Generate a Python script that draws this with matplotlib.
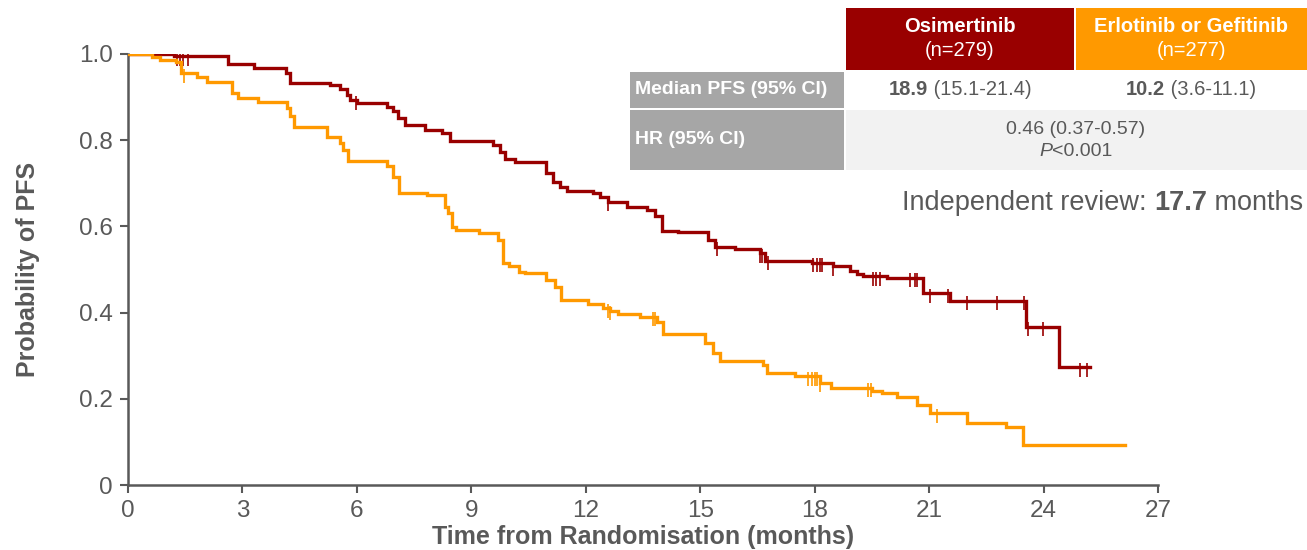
import numpy as np
import matplotlib
matplotlib.use("Agg")
import matplotlib.pyplot as plt
from matplotlib.patches import Rectangle
from matplotlib.offsetbox import TextArea, HPacker, AnnotationBbox

plt.rcParams["font.family"] = ["Liberation Sans", "DejaVu Sans"]

W, H = 1307, 550
GREY = "#595959"
RED = "#990000"
ORANGE = "#FF9900"

# Kaplan-Meier step curves (months, probability of PFS)
osi_t = [0, 1.2, 2.62, 3.3, 4.13, 4.25, 5.29, 5.56, 5.73, 5.82,
         5.99, 6.78, 6.95, 7.09, 7.26, 7.79, 8.22, 8.44, 9.58, 9.75,
         9.88, 10.14, 10.97, 11.15, 11.32, 11.5, 12.2, 12.37, 12.59, 13.07,
         13.6, 13.81, 13.99, 14.43, 15.21, 15.39, 15.91, 16.57, 16.7, 17.92,
         18.49, 18.93, 19.1, 19.27, 19.89, 20.85, 21.56, 23.53, 24.4, 25.22]
osi_s = [1.0, 0.995, 0.977, 0.967, 0.955, 0.933, 0.928, 0.918, 0.905, 0.893,
         0.886, 0.878, 0.867, 0.851, 0.835, 0.824, 0.816, 0.799, 0.789, 0.773,
         0.756, 0.750, 0.723, 0.704, 0.692, 0.683, 0.677, 0.669, 0.657, 0.644,
         0.638, 0.623, 0.590, 0.586, 0.568, 0.553, 0.547, 0.538, 0.520, 0.516,
         0.507, 0.497, 0.490, 0.485, 0.481, 0.445, 0.428, 0.367, 0.273, 0.273]
osi_cens = [1.29, 1.36, 1.45, 1.56, 5.98, 12.59, 15.43, 16.57, 16.62, 16.78,
            17.96, 18.05, 18.14, 18.18, 18.49, 19.54, 19.62, 19.71, 20.5, 20.63,
            20.67, 21.02, 21.5, 22.0, 22.77, 23.49, 23.6, 23.99, 24.95, 25.15]

erl_t = [0, 0.62, 0.84, 1.27, 1.4, 1.8, 2.06, 2.72, 2.89, 3.42,
         4.16, 4.25, 4.35, 5.21, 5.57, 5.63, 5.78, 6.78, 6.95, 7.11,
         7.85, 8.3, 8.4, 8.5, 8.6, 9.2, 9.7, 9.82, 9.99, 10.25,
         10.4, 10.97, 11.2, 11.35, 12.07, 12.46, 12.63, 12.85, 13.42, 13.86,
         14.03, 15.12, 15.34, 15.52, 16.65, 16.74, 17.48, 18.14, 18.44, 19.49,
         19.76, 20.15, 20.67, 21.02, 22.0, 23.01, 23.45, 26.13]
erl_s = [1.0, 0.992, 0.986, 0.982, 0.955, 0.947, 0.936, 0.909, 0.897, 0.889,
         0.874, 0.855, 0.830, 0.808, 0.793, 0.777, 0.752, 0.739, 0.715, 0.678,
         0.673, 0.646, 0.630, 0.599, 0.592, 0.584, 0.568, 0.514, 0.507, 0.495,
         0.491, 0.476, 0.460, 0.429, 0.421, 0.410, 0.404, 0.397, 0.390, 0.379,
         0.350, 0.329, 0.306, 0.288, 0.278, 0.259, 0.253, 0.237, 0.226, 0.217,
         0.213, 0.205, 0.186, 0.166, 0.145, 0.134, 0.093, 0.093]
erl_cens = [1.47, 12.58, 12.63, 13.77, 13.81, 17.83, 17.92, 18.0, 18.07, 18.14,
            19.4, 19.47, 21.2]

x_ticks = list(range(0, 28, 3))
y_ticks = [0, 0.2, 0.4, 0.6, 0.8, 1.0]
y_ticklabels = ["0", "0.2", "0.4", "0.6", "0.8", "1.0"]


def fx(x):
    return x / W


def fy(y):
    return 1 - y / H


fig = plt.figure(figsize=(W / 100, H / 100), dpi=100, facecolor="white")
ax = fig.add_axes([fx(128), fy(485), (1158 - 128) / W, (485 - 54) / H])

for t, s, cens, color in [(osi_t, osi_s, osi_cens, RED),
                          (erl_t, erl_s, erl_cens, ORANGE)]:
    t = np.asarray(t)
    s = np.asarray(s)
    ax.step(t, s, where="post", color=color, lw=2.4, zorder=3,
            solid_joinstyle="miter")
    idx = np.searchsorted(t, cens, side="right") - 1
    # censoring marks hang just below the curve
    ax.plot(cens, s[idx] - 0.006, ls="none", marker="|", ms=10, mew=1.2,
            color=color, zorder=3)

ax.set_xlim(0, 27)
ax.set_ylim(0, 1.0)
ax.set_xticks(x_ticks)
ax.set_yticks(y_ticks)
ax.set_yticklabels(y_ticklabels)
for side in ["top", "right"]:
    ax.spines[side].set_visible(False)
for side in ["left", "bottom"]:
    ax.spines[side].set_color(GREY)
    ax.spines[side].set_linewidth(1.8)
ax.tick_params(colors=GREY, labelsize=17.5, length=6, width=1.5, pad=5)
ax.set_xlabel("Time from Randomisation (months)", fontsize=18,
              fontweight="bold", color=GREY, labelpad=2)
ax.set_ylabel("Probability of PFS", fontsize=18, fontweight="bold",
              color=GREY, labelpad=28)


# summary table in the upper right
def cell(x0, y0, x1, y1, color):
    fig.add_artist(Rectangle((fx(x0), fy(y1)), fx(x1 - x0), (y1 - y0) / H,
                             transform=fig.transFigure, facecolor=color,
                             edgecolor="none", zorder=1))


def runs(x, y, parts, size=14.5, color=GREY, align=(0.5, 0.5)):
    boxes = [TextArea(txt, textprops=dict(fontsize=size, color=color,
                                          fontweight=wt, fontstyle=st))
             for txt, wt, st in parts]
    pack = HPacker(children=boxes, sep=0, pad=0, align="baseline")
    ab = AnnotationBbox(pack, (fx(x), fy(y)), xycoords="figure fraction",
                        frameon=False, box_alignment=align, pad=0)
    ab.set_zorder(4)
    fig.add_artist(ab)


cell(846, 8, 1074, 70, RED)
cell(1076, 8, 1307, 70, ORANGE)
cell(630, 72, 844, 108, "#A6A6A6")
cell(630, 110, 844, 170, "#A6A6A6")
cell(846, 110, 1307, 170, "#F2F2F2")

fig.text(fx(960), fy(27), "Osimertinib", ha="center", va="center",
         fontsize=14.5, fontweight="bold", color="white")
fig.text(fx(960), fy(50), "(n=279)", ha="center", va="center",
         fontsize=14.5, color="white")
fig.text(fx(1191), fy(27), "Erlotinib or Gefitinib", ha="center",
         va="center", fontsize=14.5, fontweight="bold", color="white")
fig.text(fx(1191), fy(50), "(n=277)", ha="center", va="center",
         fontsize=14.5, color="white")
fig.text(fx(635), fy(90), "Median PFS (95% CI)", ha="left", va="center",
         fontsize=14, fontweight="bold", color="white")
fig.text(fx(635), fy(139), "HR (95% CI)", ha="left", va="center",
         fontsize=14, fontweight="bold", color="white")

runs(960, 90, [("18.9", "bold", "normal"), (" (15.1-21.4)", "normal", "normal")])
runs(1191, 90, [("10.2", "bold", "normal"), (" (3.6-11.1)", "normal", "normal")])
fig.text(fx(1076), fy(129), "0.46 (0.37-0.57)", ha="center", va="center",
         fontsize=14, color=GREY)
runs(1076, 152, [("P", "normal", "italic"), ("<0.001", "normal", "normal")],
     size=14)

runs(1303, 203, [("Independent review: ", "normal", "normal"),
                 ("17.7", "bold", "normal"),
                 (" months", "normal", "normal")],
     size=19.5, align=(1.0, 0.5))

fig.savefig("out.png", dpi=100, facecolor="white")
